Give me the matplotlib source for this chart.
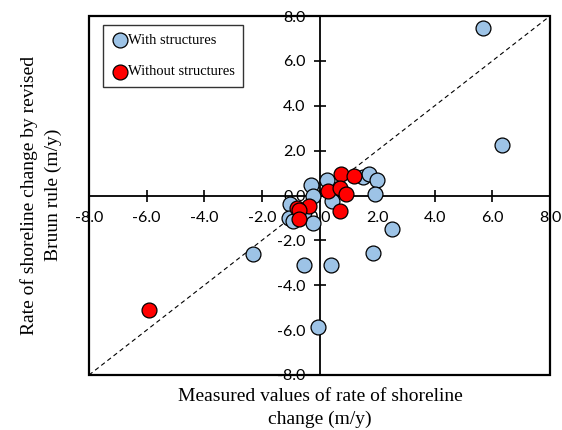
import matplotlib.pyplot as plt
from matplotlib.patches import Rectangle
import numpy as np

# measured vs. computed rate of shoreline change (m/y)
with_x = [5.66, 6.34, -0.29, -0.23, 0.25, 0.44, 1.50, 1.72, 1.98, 1.92, 2.53,
          -1.03, -1.07, -0.92, -0.55, -0.23, -2.30, -0.54, 0.40, 1.84, -0.05]
with_y = [7.46, 2.23, 0.45, 0.00, 0.68, -0.25, 0.82, 0.98, 0.70, 0.07, -1.49,
          -0.40, -1.00, -1.15, -0.75, -1.22, -2.60, -3.08, -3.08, -2.55, -5.84]

without_x = [-5.93, 0.76, 1.20, 0.31, 0.70, 0.93, 0.70, -0.35, -0.78, -0.72, -0.70]
without_y = [-5.09, 0.97, 0.88, 0.22, 0.33, 0.07, -0.70, -0.46, -0.56, -0.66, -1.04]

ticks = np.arange(-8, 9, 2)

fig = plt.figure(figsize=(5.62, 4.30), dpi=100)
ax = fig.add_axes([89/562, 1 - 375/430, (550 - 89)/562, (375 - 16)/430])

ax.plot([-8, 8], [-8, 8], color='black', lw=0.8, ls=(0, (4, 3)), zorder=1)

ax.scatter(with_x, with_y, s=115, color='#9DC3E6', edgecolor='black', lw=0.9,
           label='With structures', zorder=3)
ax.scatter(without_x, without_y, s=115, color='#FF0000', edgecolor='black', lw=0.9,
           label='Without structures', zorder=4)

ax.set_xlim(-8, 8)
ax.set_ylim(-8, 8)
ax.set_xticks(ticks)
ax.set_yticks(ticks)
ax.set_xticklabels(['%.1f' % t for t in ticks])
ax.set_yticklabels(['%.1f' % t for t in ticks])

# axes crossing at origin, box around the plot
ax.spines['left'].set_position(('data', 0))
ax.spines['bottom'].set_position(('data', 0))
for s in ['left', 'bottom']:
    ax.spines[s].set_linewidth(1.3)
for s in ['top', 'right']:
    ax.spines[s].set_visible(False)
ax.add_patch(Rectangle((0, 0), 1, 1, transform=ax.transAxes, fill=False,
                       lw=1.6, edgecolor='black', clip_on=False, zorder=5))
ax.tick_params(direction='inout', length=8, width=1.2,
               labelsize=11.5, labelfontfamily='Lato')
ax.tick_params(axis='y', pad=6)
ax.tick_params(axis='x', pad=7)

fig.text(320/562, 1 - 408/430, 'Measured values of rate of shoreline\nchange (m/y)',
         ha='center', va='center', family='Liberation Serif', fontsize=14,
         linespacing=1.45)
fig.text(41/562, 1 - 195/430, 'Rate of shoreline change by revised\nBruun rule (m/y)',
         ha='center', va='center', rotation=90, family='Liberation Serif',
         fontsize=14, linespacing=1.45)

leg = ax.legend(loc='upper left', bbox_to_anchor=((103 - 89)/461, 1 - (25 - 16)/359),
                borderaxespad=0,
                prop={'family': 'Liberation Serif', 'size': 10.5},
                frameon=True, fancybox=False, edgecolor='black',
                handletextpad=0.0, labelspacing=1.25, borderpad=0.6,
                handlelength=1.1, scatterpoints=1)
leg.get_frame().set_linewidth(1.0)

plt.savefig('out.png', dpi=100)
plt.close()
